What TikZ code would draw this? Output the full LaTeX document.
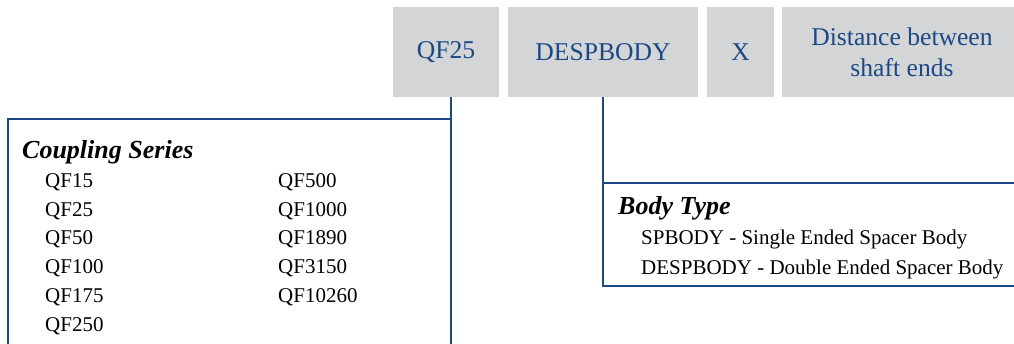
\documentclass[tikz,border=0pt]{standalone}
\usepackage{fontspec}
\setmainfont{Liberation Serif}
\definecolor{navy}{RGB}{28,72,132}
\definecolor{boxgray}{RGB}{212,213,215}
\begin{document}
\begin{tikzpicture}[x=1pt,y=-1pt,
  cell/.style={fill=boxgray, inner sep=0pt, text=navy, minimum height=90pt,
    font=\fontsize{25.6}{31}\selectfont, align=center},
  wire/.style={draw=navy, line width=2.5pt},
  head/.style={anchor=base west, inner sep=0pt, font=\fontsize{26}{30}\selectfont\bfseries\itshape},
  item/.style={anchor=base west, inner sep=0pt, font=\fontsize{21}{24}\selectfont}]
\useasboundingbox (0,0) rectangle (1014,343);
% header cells
\node[cell, minimum width=106pt] (qf)   at (446,52)   {\raisebox{-2.5pt}{QF25}};
\node[cell, minimum width=190pt] (body) at (603,52)   {\raisebox{-2.5pt}{DESPBODY}};
\node[cell, minimum width=67pt]  (x)    at (740.5,52) {\raisebox{-2.5pt}{X}};
\node[cell, minimum width=240pt] (dist) at (902,52)   {\raisebox{-1.5pt}{Distance between}\\\raisebox{-1.5pt}{shaft ends}};
% panel corners
\coordinate (csTL) at (8,119);
\coordinate (csBL) at (8,350);
\coordinate (csBR) at (451,350);
\coordinate (btTL) at (603,183);
\coordinate (btBL) at (603,286);
\coordinate (btTR) at (1020,183);
\coordinate (btBR) at (1020,286);
% connectors / panel borders
\draw[wire] (qf.south -| csBR) -- (csBR);
\draw[wire] (csBL) -- (csTL) -- (csTL -| csBR);
\draw[wire] (body.south) -- (btBL) -- (btBR);
\draw[wire] (btTL) -- (btTR);
% Coupling Series panel
\node[head] (cshead) at (22,158) {Coupling Series};
\node[item] (c1) at (45,187)   {QF15};
\node[item] (c2) at (45,216)   {QF25};
\node[item] (c3) at (45,244.5) {QF50};
\node[item] (c4) at (45,273)   {QF100};
\node[item] (c5) at (45,302)   {QF175};
\node[item] (c6) at (45,331)   {QF250};
\node[item] (c7) at (278,187)   {QF500};
\node[item] (c8) at (278,216)   {QF1000};
\node[item] (c9) at (278,244.5) {QF1890};
\node[item] (c10) at (278,273)  {QF3150};
\node[item] (c11) at (278,302)  {QF10260};
% Body Type panel
\node[head] (bthead) at (618,214) {Body Type};
\node[item] (b1) at (641,244) {SPBODY - Single Ended Spacer Body};
\node[item] (b2) at (641,274) {DESPBODY - Double Ended Spacer Body};
\end{tikzpicture}
\end{document}
